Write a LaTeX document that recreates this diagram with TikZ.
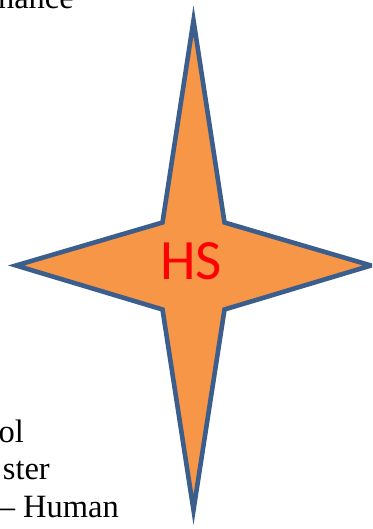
\documentclass[tikz,border=0pt]{standalone}
\usepackage{fontspec}
\setmainfont{Liberation Serif}
\newfontfamily\hsfont{Carlito}
\definecolor{starfill}{HTML}{F79646}
\definecolor{starline}{HTML}{3B5E8C}
\begin{document}
\begin{tikzpicture}[x=1pt,y=1pt,
  startext/.style={font=\hsfont\fontsize{57}{60}\selectfont, text=red, inner sep=0pt, anchor=base},
  sidetext/.style={font=\fontsize{32.5}{38}\selectfont, inner sep=0pt, anchor=base east},
  starshape/.style={fill=starfill, draw=starline, line width=4.6pt, line join=miter, miter limit=20}]
\useasboundingbox (0,0) rectangle (372,529);
\clip (0,0) rectangle (372,529);
\coordinate (c) at (193.5,263.5);
\coordinate (tN) at (193.5,508.5);
\coordinate (tS) at (193.5,19);
\coordinate (tW) at (16,263.5);
\coordinate (tE) at (371,263.5);
\coordinate (iNE) at (224.5,306.5);
\coordinate (iNW) at (162.5,306.5);
\coordinate (iSW) at (162.5,219.5);
\coordinate (iSE) at (224.5,219.5);
\draw[starshape] (tN) -- (iNE) -- (tE) -- (iSE) -- (tS) -- (iSW) -- (tW) -- (iNW) -- cycle;
\node[startext] (hs) at (191,249) {HS};
\node[sidetext] (t1) at (74,520.7) {nance};
\node[sidetext] (t2) at (24,86.3) {ol};
\node[sidetext] (t3) at (50,49) {ster};
\node[sidetext] (t4) at (119,11) {– Human};
\end{tikzpicture}
\end{document}
